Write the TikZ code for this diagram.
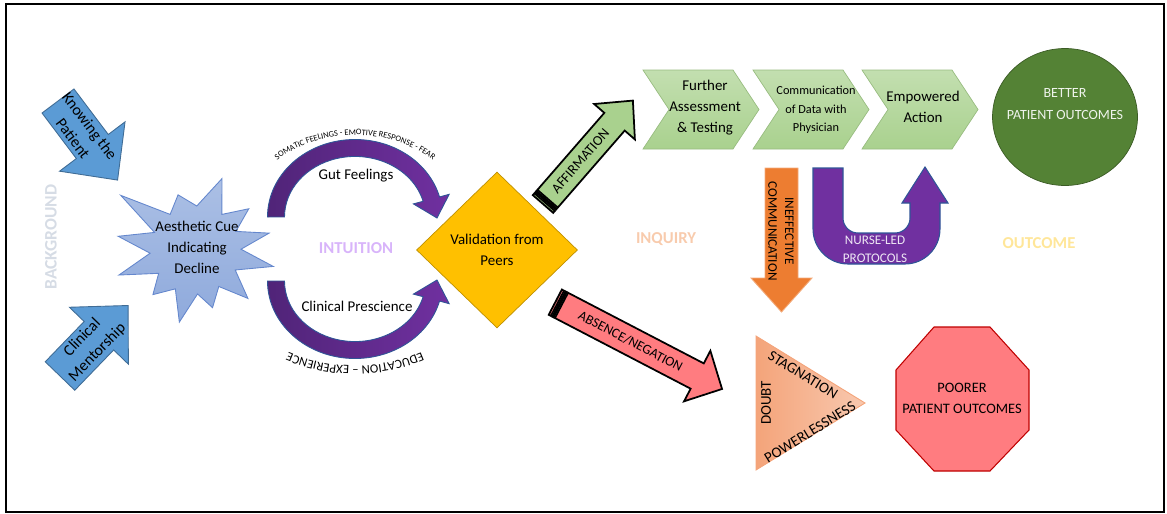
\documentclass[tikz,border=0pt]{standalone}
\usepackage{fontspec}
\setmainfont{Carlito}
\usetikzlibrary{shapes.geometric,decorations.text}
\definecolor{arrblue}{RGB}{91,155,213}
\definecolor{cueblue}{RGB}{143,170,220}
\definecolor{cueedge}{RGB}{100,135,205}
\definecolor{intpurple}{RGB}{112,48,160}
\definecolor{intdark}{RGB}{80,36,120}
\definecolor{bordblue}{RGB}{47,85,151}
\definecolor{peergold}{RGB}{255,192,0}
\definecolor{affgreen}{RGB}{169,209,142}
\definecolor{goodgreen}{RGB}{84,130,53}
\definecolor{negred}{RGB}{255,124,128}
\definecolor{inefforange}{RGB}{237,125,49}
\definecolor{doubtorange}{RGB}{244,164,122}
\definecolor{lblgrey}{RGB}{214,220,229}
\definecolor{lblpurple}{RGB}{216,180,250}
\definecolor{lblsalmon}{RGB}{248,203,173}
\definecolor{lblyellow}{RGB}{255,230,153}
% block arrow along +x: length, shaft width, head width, head length
\newcommand{\blockarrow}[4]{(0,-#2/2) -- (#1-#4,-#2/2) -- (#1-#4,-#3/2) -- (#1,0) -- (#1-#4,#3/2) -- (#1-#4,#2/2) -- (0,#2/2) -- cycle}

\begin{document}
\begin{tikzpicture}[x=0.02cm,y=-0.02cm,
  txt/.style={font=\fontsize{8.5}{12}\selectfont,align=center,inner sep=0pt},
  small/.style={txt,font=\fontsize{7.5}{10}\selectfont},
  phase/.style={font=\fontsize{9.5}{11}\selectfont\bfseries,inner sep=0pt},
  bluearr/.style={fill=arrblue,draw=arrblue!70!black,line width=0.5pt},
  intarc/.style={left color=intdark,right color=intpurple,draw=bordblue,line width=0.5pt},
  affarr/.style={fill=affgreen,draw=black,line width=1pt},
  negarr/.style={fill=negred,draw=black,line width=1pt},
  chev/.style={top color=affgreen!70!white,bottom color=affgreen,draw=affgreen!90!black,line width=0.4pt},
  ineffarr/.style={fill=inefforange,draw=inefforange!65!white,line width=0.5pt},
  nursearr/.style={fill=intpurple,draw=bordblue,line width=0.6pt},
  doubttri/.style={left color=doubtorange,right color=doubtorange!60!white,draw=doubtorange,line width=0.5pt},
  arclabel/.style={decorate,decoration={text along path,text align=center,text={#1}}}]
\useasboundingbox (0,0) rectangle (1167,514);
\draw[line width=1.1pt] (6,4) rectangle (1164,512);

% background
\begin{scope}[shift={(58,101)},rotate=-53]
\draw[bluearr] \blockarrow{99}{40}{82}{42};
\node[txt,font=\fontsize{9}{12}\selectfont,transform shape] (know) at (39,0) {Knowing the\\Patient};
\end{scope}
\begin{scope}[shift={(60,376)},rotate=46]
\draw[bluearr] \blockarrow{98}{41}{82}{42};
\node[txt,font=\fontsize{9}{12}\selectfont,transform shape] (mentor) at (43,0) {Clinical\\Mentorship};
\end{scope}
\node[phase,text=lblgrey,rotate=90,font=\fontsize{10}{11}\selectfont\bfseries] (bg) at (51,237) {BACKGROUND};

% aesthetic cue
\begin{scope}[shift={(196,250)}]
\draw[top color=cueblue!75!white,bottom color=cueblue,draw=cueedge,line width=0.5pt]
  (-70:76) -- (-54:44) -- (-38:67) -- (-25:44) -- (-13:75) -- (-1:45) -- (12:79) -- (27:44)
  -- (43:71) -- (58:43) -- (74:60) -- (88:44) -- (103:74) -- (118:44) -- (134:62) -- (148:44)
  -- (162:81) -- (176:46) -- (190:79) -- (203:45) -- (216:93) -- (234:44) -- (252:58) -- (271:44) -- cycle;
\end{scope}
\node[txt] (cue) at (197,247) {Aesthetic Cue\\Indicating\\Decline};

% intuition
\draw[intarc] (267.5,217) arc[start angle=180,end angle=345,x radius=87.5,y radius=77.5]
  -- (449.2,194.3) -- (437,218) -- (413.4,203.9) -- (423.1,201.3)
  arc[start angle=345,end angle=180,x radius=70.5,y radius=60.5] -- cycle;
\draw[intarc] (267.5,281) arc[start angle=180,end angle=15,x radius=87.5,y radius=77.5]
  -- (449.2,303.7) -- (437,280) -- (413.4,294.1) -- (423.1,296.7)
  arc[start angle=15,end angle=180,x radius=70.5,y radius=60.5] -- cycle;
\path[arclabel={|\fontsize{4.8}{5}\selectfont|SOMATIC FEELINGS - EMOTIVE RESPONSE - FEAR}]
  (272,164.2) arc[start angle=226.2,end angle=313.8,x radius=120,y radius=105];
\path[arclabel={|\fontsize{7.2}{8}\selectfont|EDUCATION – EXPERIENCE}]
  (426.4,350.2) arc[start angle=65,end angle=115,radius=169];
\node[txt] (gut) at (356,176) {Gut Feelings};
\node[txt] (presc) at (357,306) {Clinical Prescience};
\node[phase,text=lblpurple] (intu) at (356,248) {INTUITION};

% validation
\node[diamond,fill=peergold,draw=peergold!75!black,minimum width=3.22cm,minimum height=3.12cm,
  inner sep=0pt,txt] (peer) at (497,250) {Validation from\\Peers};

\begin{scope}[shift={(547.6,198.7)},rotate=49]
\draw[affarr] (-7,-13.5) rectangle (-4.5,13.5);
\draw[affarr] (-3,-13.5) rectangle (-1.5,13.5);
\draw[affarr] \blockarrow{130}{27}{54}{28};
\node[txt,font=\fontsize{8}{10}\selectfont,transform shape] (aff) at (50,0) {AFFIRMATION};
\end{scope}
\begin{scope}[shift={(561.5,305.4)},rotate=-27.5]
\draw[negarr] (-7,-14.25) rectangle (-4.5,14.25);
\draw[negarr] (-3,-14.25) rectangle (-1.5,14.25);
\draw[negarr] \blockarrow{181}{28.5}{57}{28};
\node[small,font=\fontsize{7.8}{10}\selectfont,transform shape] (neg) at (78,0) {ABSENCE/NEGATION};
\end{scope}

% inquiry
\foreach \xa in {643,753,862}
  \draw[chev] (\xa,70) -- (\xa+90,70) -- (\xa+116,109.5) -- (\xa+90,149) -- (\xa,149) -- (\xa+26,109.5) -- cycle;
\node[txt] (further) at (705,108) {Further\\Assessment\\\& Testing};
\node[txt,font=\fontsize{7}{10.5}\selectfont] (comm) at (816,110) {Communication\\of Data with\\Physician};
\node[txt] (empow) at (923,107) {Empowered\\Action};
\node[phase,text=lblsalmon] (inq) at (666,239) {INQUIRY};

\begin{scope}[shift={(781.5,168)},rotate=-90]
\draw[ineffarr] \blockarrow{144}{33}{61}{34};
\end{scope}
\node[small,font=\fontsize{7.5}{9.5}\selectfont,rotate=-90] (ineff) at (781,231) {INEFFECTIVE\\COMMUNICATION};

\draw[nursearr] (813,168) -- (813,229) arc[start angle=180,end angle=90,radius=35] -- (905,264)
  arc[start angle=90,end angle=0,radius=35] -- (940,203) -- (948,203) -- (925,167) -- (902,203)
  -- (910,203) -- (910,218) arc[start angle=0,end angle=90,radius=15] -- (858,233)
  arc[start angle=90,end angle=180,radius=15] -- (843,168) -- cycle;
\node[small,text=white!88!intpurple] (nurse) at (875,249) {NURSE-LED\\PROTOCOLS};

% outcome
\node[ellipse,fill=goodgreen,draw=goodgreen!70!black,minimum width=2.9cm,minimum height=2.74cm] (better) at (1065,117) {};
\node[txt,font=\fontsize{8}{12.5}\selectfont,text=white!90!goodgreen] (bettertxt) at (1065,104) {BETTER\\PATIENT OUTCOMES};
\node[phase,text=lblyellow] (outc) at (1039,243) {OUTCOME};

\draw[doubttri] (756,336) -- (865,403) -- (756,470) -- cycle;
\node[txt,rotate=90] (doubt) at (766,403) {DOUBT};
\node[txt,rotate=-31.4] (stag) at (803,375) {STAGNATION};
\node[txt,rotate=31.4] (power) at (810,432) {POWERLESSNESS};

\draw[fill=negred,draw=red!75!black,line width=0.6pt] (934,327) -- (990,327) -- (1029,370) -- (1029,430)
  -- (990,471) -- (934,471) -- (896,430) -- (896,370) -- cycle;
\node[txt,font=\fontsize{8.2}{12}\selectfont] (poorer) at (962,398) {POORER\\PATIENT OUTCOMES};
\end{tikzpicture}
\end{document}
